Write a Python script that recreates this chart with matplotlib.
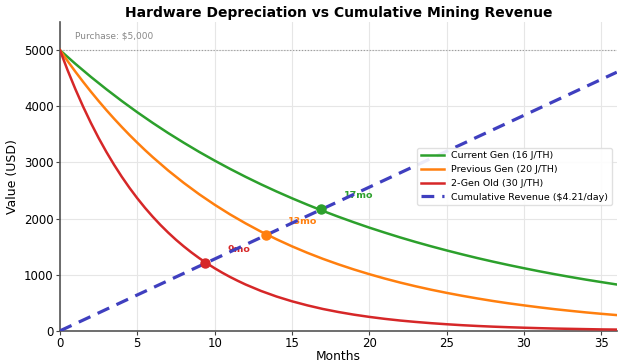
import matplotlib
matplotlib.use("Agg")
import matplotlib.pyplot as plt

# Current Gen read monthly
current_months = list(range(0, 37))
current_gen = [5000, 4756, 4524, 4304, 4094, 3894, 3704, 3523, 3352, 3188, 3033, 2885, 2744,
               2610, 2483, 2362, 2247, 2137, 2033, 1934, 1839, 1750, 1664, 1583, 1506, 1433,
               1363, 1296, 1233, 1173, 1116, 1061, 1009, 960, 913, 869, 826]
# Previous Gen read every half month up to 6, then monthly
previous_months = [0, 0.5, 1, 1.5, 2, 2.5, 3, 3.5, 4, 4.5, 5, 5.5] + list(range(6, 37))
previous_gen = [5000, 4804, 4616, 4435, 4261, 4094, 3933, 3779, 3631, 3488, 3352, 3220,
                3094, 2856, 2637, 2434, 2247, 2074, 1915,
                1767, 1632, 1506, 1390, 1283, 1185, 1094, 1010, 932, 860, 794, 733, 677,
                625, 577, 532, 491, 454, 419, 386, 357, 329, 304, 281]
# 2-Gen Old read every half month up to 12, then monthly
two_gen_months = [0, 0.5, 1, 1.5, 2, 2.5, 3, 3.5, 4, 4.5, 5, 5.5, 6, 6.5, 7, 7.5, 8, 8.5,
                  9, 9.5, 10, 10.5, 11, 11.5] + list(range(12, 37))
two_gen_old = [5000, 4639, 4304, 3993, 3704, 3436, 3188, 2958, 2744, 2546, 2362, 2191,
               2033, 1886, 1750, 1623, 1506, 1397, 1296, 1203, 1116, 1035, 960, 891,
               826, 711, 612, 527, 454, 390, 336, 289, 249, 214, 184, 159, 137, 118,
               101, 87, 75, 65, 56, 48, 41, 36, 31, 26, 23]
revenue_months = [0, 36]
revenue = [0, 4607]

series_labels = ["Current Gen (16 J/TH)", "Previous Gen (20 J/TH)", "2-Gen Old (30 J/TH)"]
series_colors = ["#2ca02c", "#ff7f0e", "#d62728"]
revenue_label = "Cumulative Revenue ($4.21/day)"

breakeven_months = [16.9, 13.3, 9.4]
breakeven_values = [2165, 1705, 1205]
breakeven_labels = ["17mo", "13mo", "9mo"]

purchase = 5000

fig = plt.figure(figsize=(6.18, 3.62), dpi=100)
ax = fig.add_axes([0.097, 0.086, 0.901, 0.853])

for mo, vals, lab, col in zip([current_months, previous_months, two_gen_months],
                              [current_gen, previous_gen, two_gen_old], series_labels, series_colors):
    ax.plot(mo, vals, color=col, lw=1.8, label=lab, zorder=3)

ax.plot(revenue_months, revenue, color="#3f3fbf", lw=2.3, ls=(0, (4, 2.5)), label=revenue_label, zorder=4)

ax.axhline(purchase, color="#999999", lw=0.8, ls=":", zorder=2)
ax.text(1.0, 5250, "Purchase: $5,000", fontsize=6.5, color="#888888", va="center", ha="left")

for m, v, lab, col in zip(breakeven_months, breakeven_values, breakeven_labels, series_colors):
    ax.plot([m], [v], "o", color=col, ms=6.5, zorder=5)
    ax.annotate(lab, (m, v), xytext=(16, 10), textcoords="offset points",
                fontsize=6.8, fontweight="bold", color=col, ha="left", va="center", zorder=3)

ax.set_xlim(0, 36)
ax.set_ylim(0, 5500)
ax.set_xticks([0, 5, 10, 15, 20, 25, 30, 35])
ax.set_yticks([0, 1000, 2000, 3000, 4000, 5000])
ax.tick_params(labelsize=8.5, length=3, pad=1.5, color="#444444")
ax.grid(True, color="#e6e6e6", lw=0.8, zorder=0)
ax.set_axisbelow(True)
for s in ["top", "right"]:
    ax.spines[s].set_visible(False)
for s in ["left", "bottom"]:
    ax.spines[s].set_color("#555555")
    ax.spines[s].set_linewidth(1.2)

ax.set_xlabel("Months", fontsize=8.8, labelpad=0)
ax.set_ylabel("Value (USD)", fontsize=9)
ax.set_title("Hardware Depreciation vs Cumulative Mining Revenue", fontsize=10, fontweight="bold", pad=4)

leg = ax.legend(loc="center right", fontsize=6.8, frameon=True, framealpha=0.9,
                edgecolor="#dddddd", handlelength=2.4)

fig.savefig("out.png", dpi=100)
